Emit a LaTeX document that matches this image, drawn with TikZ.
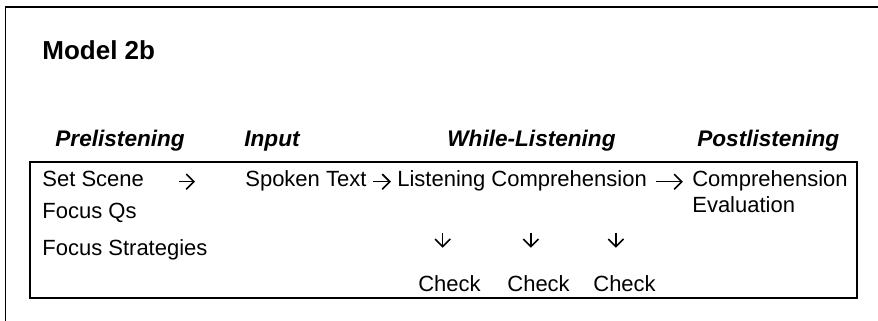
\documentclass[tikz,border=0pt]{standalone}
\usepackage{fontspec}
\setmainfont{Liberation Sans}
\usepackage{tikz}
\usetikzlibrary{arrows.meta}

\begin{document}
\begin{tikzpicture}[
    txt/.style={anchor=base west, inner sep=0pt, font=\fontsize{11}{13}\selectfont},
    phase/.style={anchor=base west, inner sep=0pt, font=\fontsize{11.3}{14}\selectfont\bfseries\itshape},
    title/.style={anchor=base west, inner sep=0pt, font=\fontsize{13}{15}\selectfont\bfseries},
    frameline/.style={line width=0.6pt, black},
    txtarrow/.style={-{Straight Barb[length=3.8pt, width=7.6pt]}, line width=0.8pt, shorten <=3pt, shorten >=3pt},
    dnarrow/.style={-{Straight Barb[length=3.8pt, width=7.6pt]}, line width=0.8pt},
]
\useasboundingbox (0,0) rectangle (15.43,-5.641);

% Outer frame (only top and left edges show)
\draw[frameline] (0.097,-5.641) -- (0.097,-0.123) -- (15.43,-0.123);

% Title
\node[title] (model) at (0.738,-1.037) {Model 2b};

% Phase headings
\node[phase] (pre) at (0.967,-2.583) {Prelistening};
\node[phase] (inp) at (4.288,-2.583) {Input};
\node[phase] (while) at (7.855,-2.583) {While-Listening};
\node[phase] (post) at (12.248,-2.583) {Postlistening};

% Inner box
\draw[frameline] (0.527,-2.847) rectangle (15.060,-5.237);

% Prelistening column
\node[txt] (scene) at (0.738,-3.286) {Set Scene};
\node[txt] (focq) at (0.738,-3.848) {Focus Qs};
\node[txt] (focs) at (0.738,-4.490) {Focus Strategies};

% Main line
\node[txt] (spoken) at (4.305,-3.286) {Spoken Text};
\node[txt] (listen) at (6.976,-3.286) {Listening Comprehension};
\node[txt] (comp) at (12.160,-3.286) {Comprehension};
\node[txt] (eval) at (12.160,-3.743) {Evaluation};

\draw[txtarrow, shorten <=17.5pt, shorten >=25pt] (scene.mid east) -- (spoken.mid west);
\draw[txtarrow] (spoken.mid east) -- (listen.mid west);
\draw[txtarrow, shorten <=4.5pt, shorten >=4.5pt] (listen.mid east) -- (comp.mid west);

% Checks
\node[txt] (chk1) at (7.345,-5.131) {Check};
\node[txt] (chk2) at (8.910,-5.131) {Check};
\node[txt] (chk3) at (10.421,-5.131) {Check};

\coordinate (d1) at (7.780,-4.094);
\coordinate (d2) at (9.330,-4.094);
\coordinate (d3) at (10.825,-4.094);
\foreach \d in {d1,d2,d3}
  \draw[dnarrow] (\d) -- ++(0,-0.26);

\end{tikzpicture}
\end{document}
